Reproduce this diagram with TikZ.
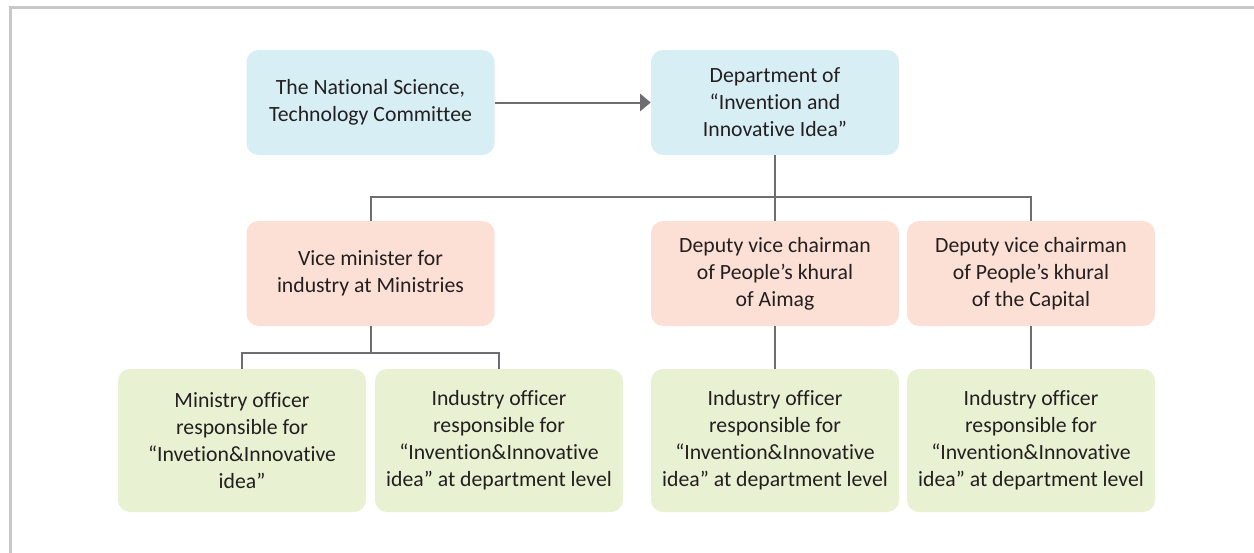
\documentclass[tikz,border=0pt]{standalone}
\usepackage{fontspec}
\setmainfont{Carlito}[Ligatures={NoCommon,NoRare}]
\usepackage{tikz}
\usetikzlibrary{arrows.meta}

\definecolor{boxblue}{RGB}{215,238,245}
\definecolor{boxpink}{RGB}{253,224,213}
\definecolor{boxgreen}{RGB}{232,241,210}
\definecolor{linegray}{RGB}{109,110,113}
\definecolor{framegray}{RGB}{200,200,200}
\definecolor{txt}{RGB}{35,31,32}

\begin{document}
\begin{tikzpicture}[x=0.75pt,y=0.75pt,yscale=-1,xscale=1,
  box/.style={rounded corners=9pt,minimum width=186pt,minimum height=78.75pt,align=center,
    text=txt,inner sep=0pt,font=\fontsize{16.3}{20.3}\selectfont},
  topbox/.style={box,fill=boxblue},
  midbox/.style={box,fill=boxpink},
  lowbox/.style={box,fill=boxgreen,minimum height=107.25pt},
  conn/.style={draw=linegray,line width=1.5pt}]
\useasboundingbox (0,0) rectangle (1254,553);

%Frame
\draw [framegray,line width=2.25pt] (10,560) -- (10,7) -- (1260,7) ;

% Top row
\node [topbox] (nstc) at (370.5,102.5) {The National Science,\\Technology Committee};
\node [topbox] (dept) at (775,102.5) {Department of\\``Invention and\\Innovative Idea''};

% Middle row
\node [midbox] (vicemin) at (370.5,273.5) {Vice minister for\\industry at Ministries};
\node [midbox] (aimag) at (775,273.5) {Deputy vice chairman\\of People's khural\\of Aimag};
\node [midbox] (capital) at (1031,273.5) {Deputy vice chairman\\of People's khural\\of the Capital};

% Bottom row
\node [lowbox] (minoff) at (242,440.5) {Ministry officer\\responsible for\\``Invetion\&Innovative\\idea''};
\node [lowbox] (indoff) at (499,440.5) {Industry officer\\responsible for\\``Invention\&Innovative\\idea'' at department level};
\node [lowbox] (aimagoff) at (775,440.5) {Industry officer\\responsible for\\``Invention\&Innovative\\idea'' at department level};
\node [lowbox] (capoff) at (1031,440.5) {Industry officer\\responsible for\\``Invention\&Innovative\\idea'' at department level};

% Connectors
\coordinate (split) at (dept.south |- 0,196.5);
\coordinate (minsplit) at (vicemin.south |- 0,352.5);

\draw [conn,-{Triangle[length=8pt,width=13pt]}] (nstc.east) -- (dept.west) ;
\draw [conn] (dept.south) -- (split) ;
\draw [conn] (vicemin.north) |- (split) -| (capital.north) ;
\draw [conn] (split) -- (aimag.north) ;

\draw [conn] (vicemin.south) -- (minsplit) ;
\draw [conn] (minoff.north) |- (minsplit) -| (indoff.north) ;
\draw [conn] (aimag.south) -- (aimagoff.north) ;
\draw [conn] (capital.south) -- (capoff.north) ;

\end{tikzpicture}
\end{document}
